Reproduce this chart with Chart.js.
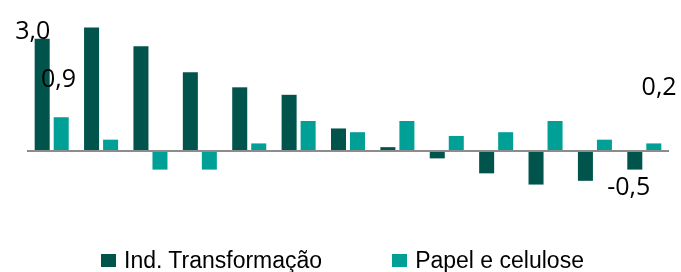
<!DOCTYPE html>
<html>
<head>
<meta charset="utf-8">
<script src="https://cdn.jsdelivr.net/npm/chart.js@4/dist/chart.umd.min.js"></script>
<style>
  body { margin: 0; background: #fff; }
  #wrap { position: relative; width: 681px; height: 272px; }
  #chart { position: absolute; left: 0; top: 0; }
  #legend {
    position: absolute; left: 101px; top: 247px;
    font-family: "Liberation Sans", Arial, sans-serif; font-size: 23px;
    color: #000; display: flex; align-items: center; white-space: nowrap;
  }
  .item { display: flex; align-items: center; }
  .item + .item { margin-left: 70px; }
  .box { width: 15px; height: 13px; margin-right: 8px; }
</style>
</head>
<body>
<div id="wrap">
  <canvas id="chart" width="681" height="272"></canvas>
  <div id="legend"></div>
</div>
<script>
// Chart data
const categories = ["1", "2", "3", "4", "5", "6", "7", "8", "9", "10", "11", "12", "13"];
const seriesNames = ["Ind. Transformação", "Papel e celulose"];
const indTransformacao = [3.0, 3.3, 2.8, 2.1, 1.7, 1.5, 0.6, 0.1, -0.2, -0.6, -0.9, -0.8, -0.5];
const papelCelulose = [0.9, 0.3, -0.5, -0.5, 0.2, 0.8, 0.5, 0.8, 0.4, 0.5, 0.8, 0.3, 0.2];
const seriesColors = ["#00544C", "#00A096"];

// Labelled bars: [dataset, index, text]
const valueLabels = [
  [0, 0, "3,0"],
  [1, 0, "0,9"],
  [1, 12, "0,2"],
  [0, 12, "-0,5"],
];
// Label nudges relative to the bar end (dx, dy)
const labelOffsets = [
  [-9.5, 0],
  [-2.7, -30],
  [5.3, -48],
  [-6, 25],
];

// Zero line and value labels
const overlayPlugin = {
  id: "overlay",
  afterDatasetsDraw(chart) {
    const ctx = chart.ctx;
    const area = chart.chartArea;
    const y0 = chart.scales.y.getPixelForValue(0);
    ctx.save();
    ctx.strokeStyle = "#8C8C8C";
    ctx.lineWidth = 2;
    ctx.beginPath();
    ctx.moveTo(area.left, y0);
    ctx.lineTo(area.right, y0);
    ctx.stroke();

    ctx.fillStyle = "#000";
    ctx.font = "25px 'Open Sans', sans-serif";
    ctx.textAlign = "center";
    ctx.textBaseline = "alphabetic";
    valueLabels.forEach(([ds, idx, text], i) => {
      const bar = chart.getDatasetMeta(ds).data[idx];
      const [dx, dy] = labelOffsets[i];
      ctx.fillText(text, bar.x + dx, bar.y + dy);
    });
    ctx.restore();
  },
};

const ctx = document.getElementById("chart").getContext("2d");
new Chart(ctx, {
  type: "bar",
  data: {
    labels: categories,
    datasets: [
      {
        label: seriesNames[0],
        data: indTransformacao,
        backgroundColor: seriesColors[0],
        categoryPercentage: 0.77,
        barPercentage: 0.79,
      },
      {
        label: seriesNames[1],
        data: papelCelulose,
        backgroundColor: seriesColors[1],
        categoryPercentage: 0.77,
        barPercentage: 0.79,
      },
    ],
  },
  options: {
    responsive: false,
    animation: false,
    layout: { padding: { left: 27, right: 12, top: 20, bottom: 65 } },
    plugins: {
      legend: { display: false },
      tooltip: { enabled: false },
    },
    scales: {
      x: { display: false },
      y: { display: false, min: -1.5, max: 3.5 },
    },
  },
  plugins: [overlayPlugin],
});

// HTML legend
const legendEl = document.getElementById("legend");
seriesNames.forEach((name, i) => {
  const item = document.createElement("div");
  item.className = "item";
  const box = document.createElement("span");
  box.className = "box";
  box.style.background = seriesColors[i];
  const txt = document.createElement("span");
  txt.textContent = name;
  item.appendChild(box);
  item.appendChild(txt);
  legendEl.appendChild(item);
});
</script>
</body>
</html>
